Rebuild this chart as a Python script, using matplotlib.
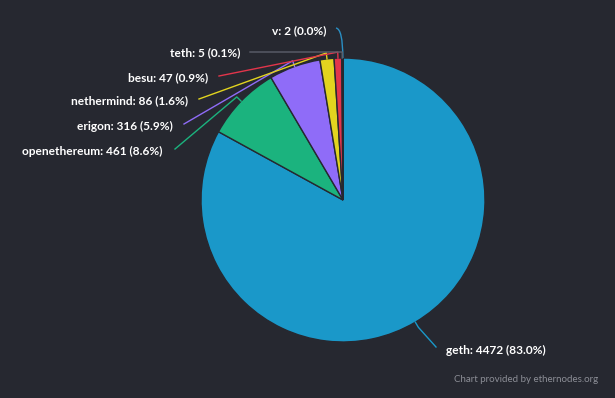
import numpy as np
import matplotlib
matplotlib.use("Agg")
import matplotlib.pyplot as plt
from matplotlib.path import Path
import matplotlib.patches as patches

# Data
clients = ["geth", "openethereum", "erigon", "nethermind", "besu", "teth", "v"]
counts = [4472, 461, 316, 86, 47, 5, 2]
colors = ["#1a98c9", "#1bb37e", "#8f6cf8", "#e2d41f", "#e2354b", "#5c5f6b", "#2a8fc4"]

W, H = 615, 398
BG = "#262830"

# label anchor (text end, pixel coords) and connector start per client
label_pos = {
    "geth": (446, 350),
    "openethereum": (163, 151),
    "erigon": (173, 126),
    "nethermind": (188, 101),
    "besu": (208, 78),
    "teth": (240, 53),
    "v": (326, 31),
}
line_start = {
    "geth": (436, 347),
    "openethereum": (175, 149),
    "erigon": (184, 124),
    "nethermind": (199, 99),
    "besu": (219, 76),
    "teth": (250, 52),
    "v": (336, 28),
}


def px(x, y):
    return x, H - y


fig = plt.figure(figsize=(W / 100, H / 100), dpi=100, facecolor=BG)
ax = fig.add_axes([0, 0, 1, 1])
ax.set_facecolor(BG)

cx, cy = px(343, 200)
r = 142
wedges, _ = ax.pie(counts, colors=colors, startangle=90, counterclock=False,
                   center=(cx, cy), radius=r,
                   wedgeprops=dict(edgecolor=BG, linewidth=1))

ax.set_xlim(0, W)
ax.set_ylim(0, H)
ax.set_aspect("equal")
ax.axis("off")

total = sum(counts)
for w, name, n, c in zip(wedges, clients, counts, colors):
    mid = np.deg2rad((w.theta1 + w.theta2) / 2)
    edge = (cx + r * np.cos(mid), cy + r * np.sin(mid))
    hook = (cx + (r + 6) * np.cos(mid), cy + (r + 6) * np.sin(mid))
    sx, sy = px(*line_start[name])
    if name == "v":
        path = Path([(sx, sy), (edge[0], sy - 1), edge],
                    [Path.MOVETO, Path.CURVE3, Path.CURVE3])
        ax.add_patch(patches.PathPatch(path, fill=False, edgecolor=c, lw=1))
    else:
        ax.plot([sx, hook[0], edge[0]], [sy, hook[1], edge[1]], color=c, lw=1,
                solid_joinstyle="round")
    lx, ly = px(*label_pos[name])
    pct = 100 * n / total
    ax.text(lx, ly, f"{name}: {n} ({pct:.1f}%)", color="white", fontsize=8.6,
            fontweight="bold", family=["Lato", "DejaVu Sans"],
            ha="left" if name == "geth" else "right", va="center")

tx, ty = px(598, 380)
ax.text(tx, ty, "Chart provided by ethernodes.org", color="#8c8e96", fontsize=7,
        family=["Lato", "DejaVu Sans"], ha="right", va="center")

fig.savefig("out.png", dpi=100, facecolor=BG)
